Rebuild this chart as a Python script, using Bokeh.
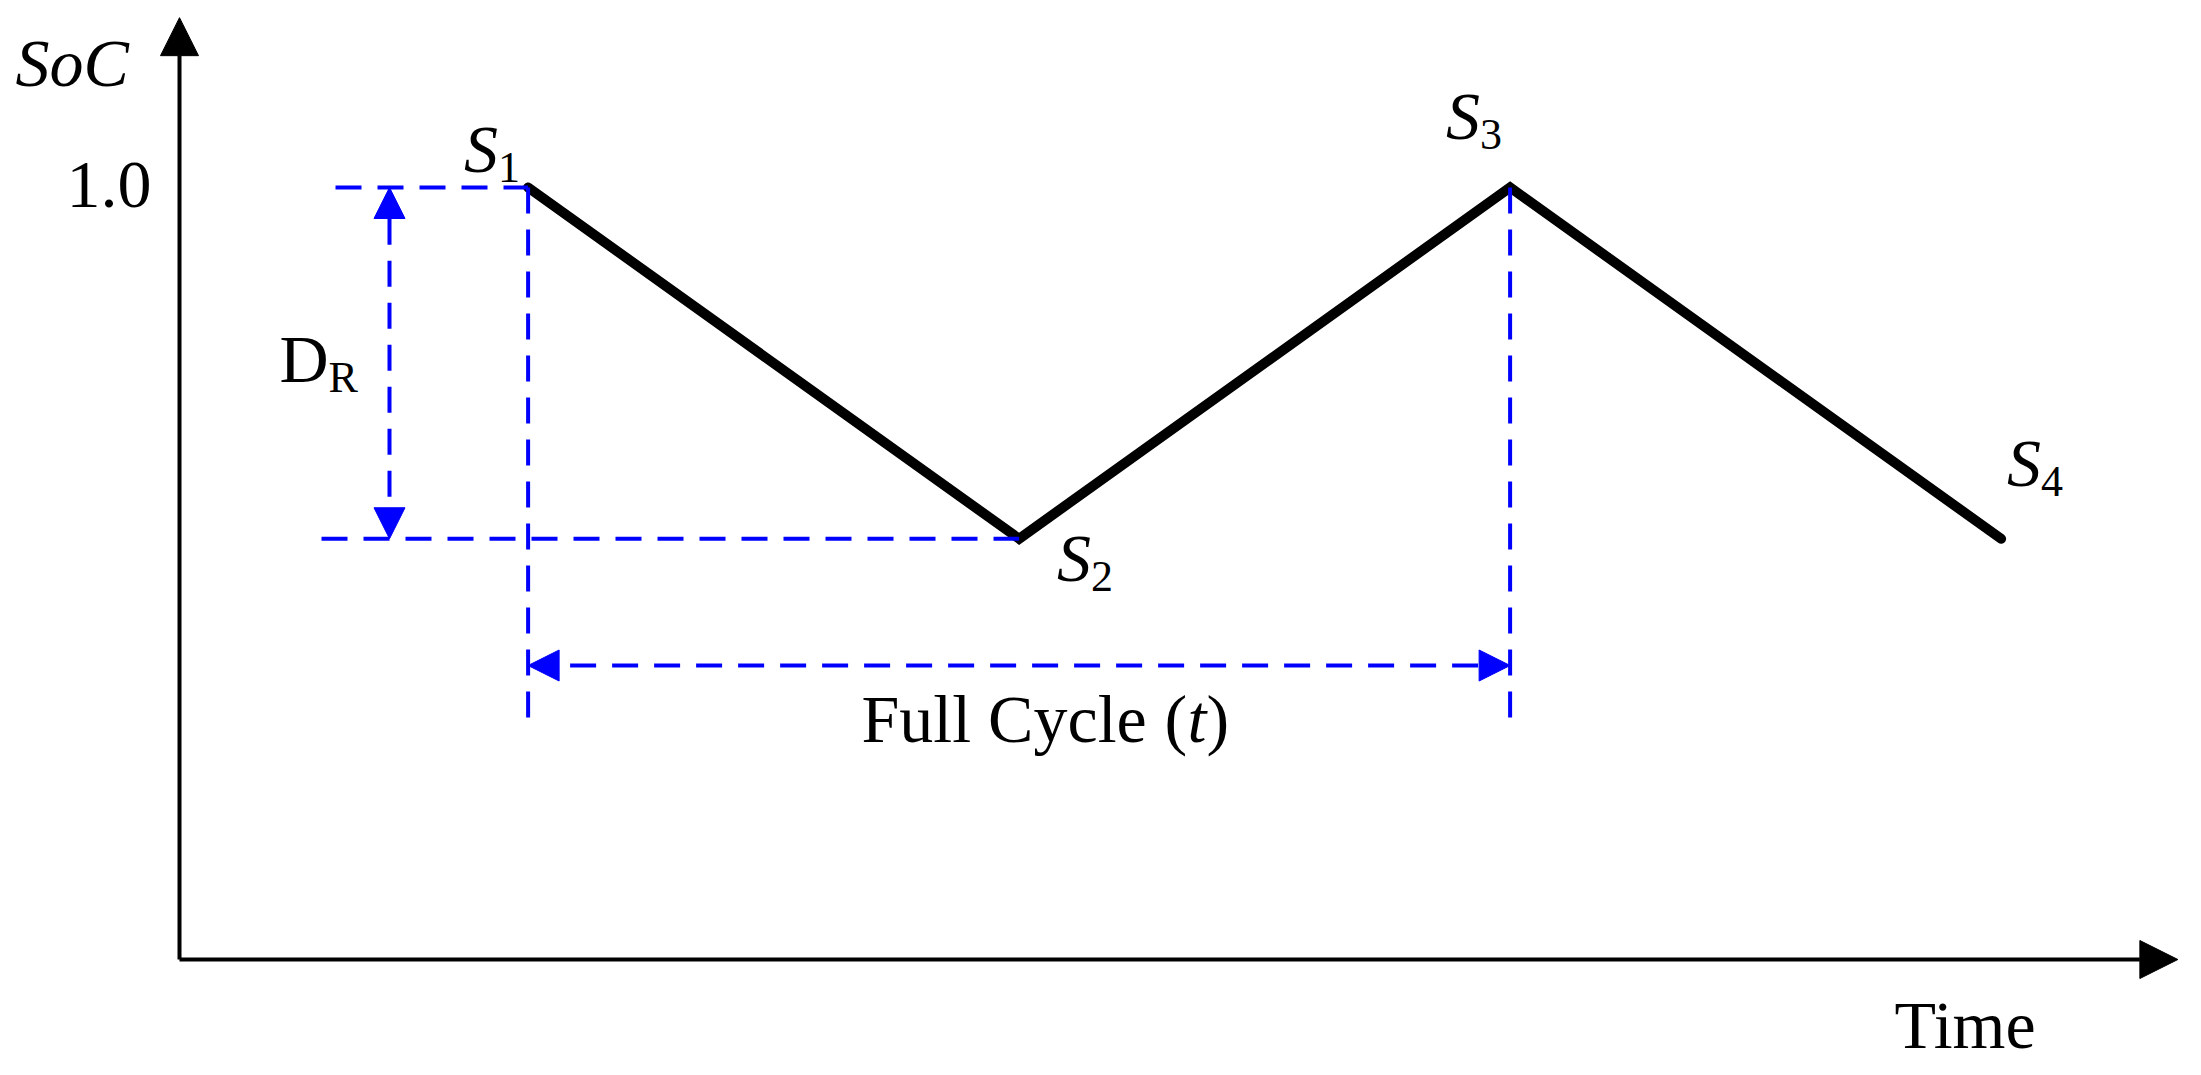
from bokeh.plotting import figure
from bokeh.models import Range1d, Arrow, NormalHead, ColumnDataSource
from bokeh.core.properties import value
from bokeh.embed import file_html
from bokeh.resources import INLINE

# ---------------- data ----------------
point_names = ["S", "S", "S", "S"]
point_subs = ["1", "2", "3", "4"]
time = [0.71, 1.71, 2.71, 3.71]          # time of S1..S4
soc = [1.0, 0.545, 1.0, 0.545]           # state of charge at S1..S4
soc_tick = [1.0]
soc_tick_labels = ["1.0"]
x_title = "Time"
y_title = "SoC"
cycle_text = "Full Cycle"
cycle_var = "t"
dod_text = "D"
dod_sub = "R"
time_axis_end = 4.07
soc_axis_end = 1.22

# ---------------- layout helpers (pixels -> data) ----------------
W, H = 2195, 1068
PAGE = 0
OX, OY = 179, 959          # page pixel of (time 0, SoC 0)
PX_T, PX_S = 491, 772      # pixels per unit
BIG, SMALL = 68, 44
CB = -round(0.37 * BIG)     # vertical text correction for big text (px)
CS = -round(0.37 * SMALL)   # vertical text correction for subscripts (px)


def tx(px):
    return (px - OX) / PX_T


def sy(py):
    return (OY - py) / PX_S


FONT = value("Liberation Serif")
BLUE = "#0000FF"
DASH = "26 16"
TXT = dict(text_font=FONT, text_line_height=1.0, text_align="left",
           text_baseline="alphabetic", text_color="black")
FS_BIG = f"{BIG}px"
FS_SMALL = f"{SMALL}px"

p = figure(width=W, height=H, x_range=Range1d(tx(PAGE), tx(PAGE + W)),
           y_range=Range1d(sy(PAGE + H), sy(PAGE)),
           x_axis_type=None, y_axis_type=None, toolbar_location=None,
           output_backend="svg", min_border=0)
p.grid.visible = False
p.outline_line_color = None
p.background_fill_color = "white"
p.border_fill_color = "white"

# axes as arrows
p.add_layout(Arrow(end=NormalHead(size=38, fill_color="black", line_color="black", line_width=1),
                   x_start=0, y_start=0, x_end=0, y_end=soc_axis_end,
                   line_color="black", line_width=4))
p.add_layout(Arrow(end=NormalHead(size=38, fill_color="black", line_color="black", line_width=1),
                   x_start=0, y_start=0, x_end=time_axis_end, y_end=0,
                   line_color="black", line_width=4))

# SoC profile
p.line(time, soc, line_color="black", line_width=10, line_cap="round", line_join="miter")

# blue dashed guide lines
top_lvl, low_lvl = soc[0], soc[1]
p.segment(x0=[tx(335), tx(321)], y0=[top_lvl, low_lvl],
          x1=[time[0], time[1]], y1=[top_lvl, low_lvl],
          line_color=BLUE, line_width=4, line_dash=DASH)
p.segment(x0=[time[0], time[2]], y0=[top_lvl, top_lvl],
          x1=[time[0], time[2]], y1=[sy(722), sy(722)],
          line_color=BLUE, line_width=4, line_dash=DASH)

# depth-range arrow
p.add_layout(Arrow(start=NormalHead(size=31, fill_color=BLUE, line_color=BLUE, line_width=1),
                   end=NormalHead(size=31, fill_color=BLUE, line_color=BLUE, line_width=1),
                   x_start=tx(389), y_start=low_lvl, x_end=tx(389), y_end=top_lvl,
                   line_color=BLUE, line_width=4, line_dash=DASH))
# full-cycle arrow
cyc_y = sy(665)
p.add_layout(Arrow(start=NormalHead(size=31, fill_color=BLUE, line_color=BLUE, line_width=1),
                   end=NormalHead(size=31, fill_color=BLUE, line_color=BLUE, line_width=1),
                   x_start=time[0], y_start=cyc_y, x_end=time[2], y_end=cyc_y,
                   line_color=BLUE, line_width=4, line_dash=DASH))

# point labels S_i
lab = ColumnDataSource(dict(x=time, y=soc, s=point_names, sub=point_subs,
                            xo=[-64, 38, -64, 6], yo=[v + CB for v in (-14, 44, -47, -51)],
                            xo2=[-30, 72, -30, 40], yo2=[v + CS for v in (-4, 54, -37, -41)]))
p.text(x="x", y="y", text="s", x_offset="xo", y_offset="yo", source=lab,
       text_font_style="italic", text_font_size=FS_BIG, **TXT)
p.text(x="x", y="y", text="sub", x_offset="xo2", y_offset="yo2", source=lab,
       text_font_size=FS_SMALL, **TXT)

# axis texts
p.text(x=[tx(15)], y=[sy(87 + CB)], text=[y_title], text_font_style="italic",
       text_font_size=FS_BIG, **TXT)
p.text(x=[0] * len(soc_tick), y=soc_tick, text=soc_tick_labels, x_offset=-28, y_offset=22 + CB,
       text_font_size=FS_BIG, **{**TXT, "text_align": "right"})
p.text(x=[tx(1894)], y=[sy(1049 + CB)], text=[x_title], text_font_size=FS_BIG, **TXT)

# D_R
p.text(x=[tx(279)], y=[sy(383 + CB)], text=[dod_text], text_font_size=FS_BIG, **TXT)
p.text(x=[tx(328)], y=[sy(393 + CS)], text=[dod_sub], text_font_size=FS_SMALL, **TXT)

# Full Cycle (t)
p.text(x=[tx(861), tx(1164), tx(1206)], y=[sy(743 + CB)] * 3, text=[cycle_text, "(", ")"],
       text_font_size=FS_BIG, **TXT)
p.text(x=[tx(1187)], y=[sy(743 + CB)], text=[cycle_var], text_font_style="italic",
       text_font_size=FS_BIG, **TXT)

open("out.html", "w").write(file_html(p, INLINE))
